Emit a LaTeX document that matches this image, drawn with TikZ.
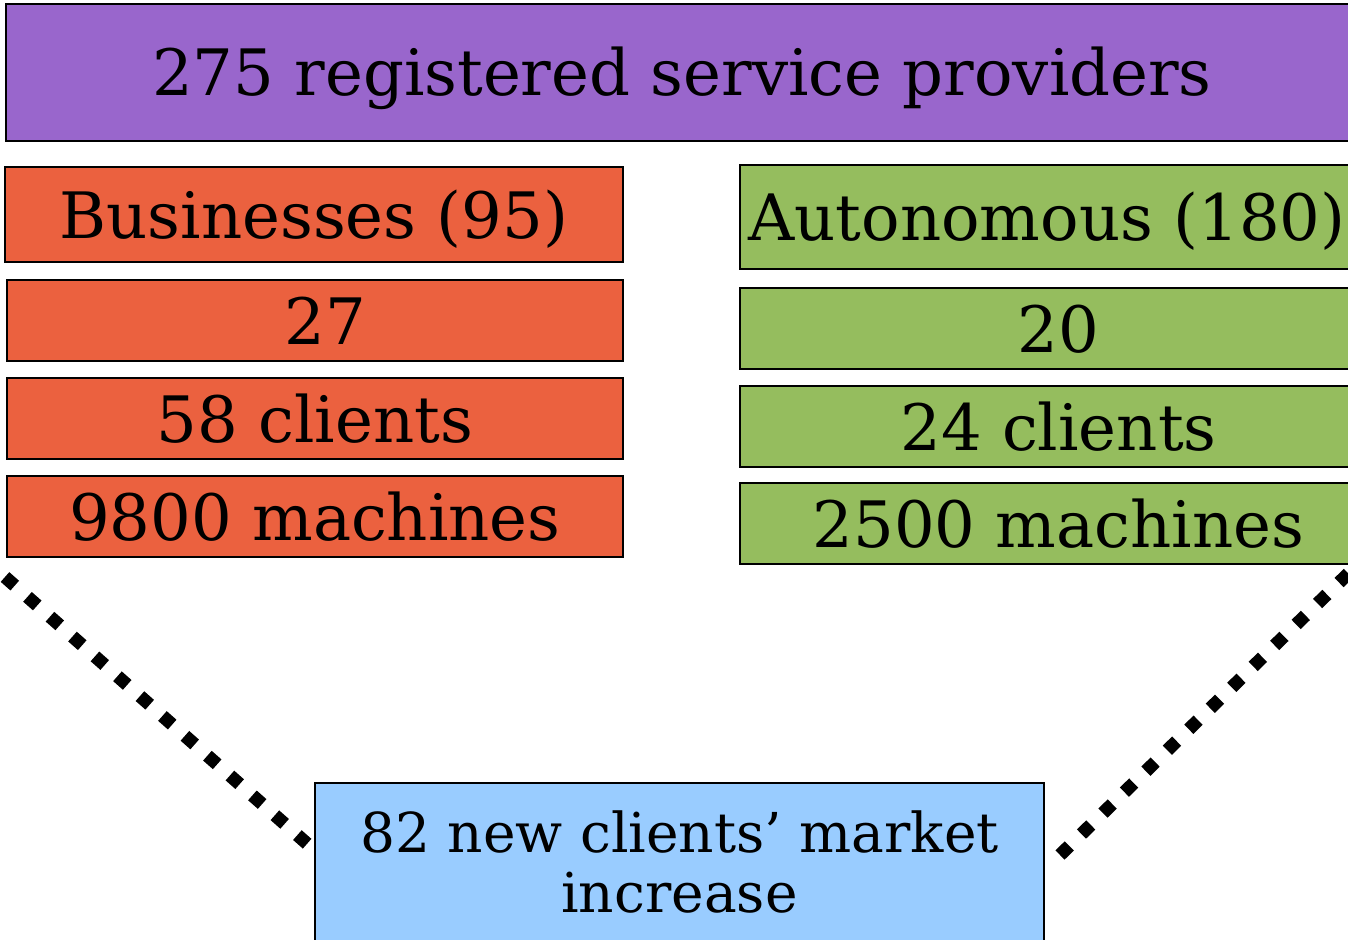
\documentclass[tikz,border=0pt]{standalone}
\usepackage{fontspec}
\setmainfont{DejaVu Serif}
\usetikzlibrary{positioning}
\definecolor{provpurple}{RGB}{153,102,204}
\definecolor{bizorange}{RGB}{235,97,63}
\definecolor{autogreen}{RGB}{149,189,94}
\definecolor{gainblue}{RGB}{153,204,255}
\tikzset{
cell/.style={
  draw=black,
  line width=1.5pt,
  inner sep=0pt,
  outer sep=0pt,
  text height=47pt,
  text depth=0pt,
  font=\fontsize{64}{74}\selectfont
  },
bizcell/.style={cell,fill=bizorange,minimum width=616pt,minimum height=81pt},
autocell/.style={cell,fill=autogreen,minimum width=637pt,minimum height=81pt},
dotline/.style={line width=13pt,dash pattern=on 13pt off 17pt}
}

\begin{document}
\begin{tikzpicture}[x=1pt,y=-1pt,node distance=17pt]
\useasboundingbox (0,0) rectangle (1348,939);

\node[cell,fill=provpurple,anchor=north west,minimum width=1352pt,minimum height=137pt]
  (prov) at (6,4) {275 registered service providers};

% left column
\node[cell,fill=bizorange,anchor=north west,minimum width=618pt,minimum height=95pt]
  (biz) at (5,167) {Businesses (95)};
\node[bizcell,below=18pt of biz.south west,anchor=north west,xshift=2pt] (biz27) {\ 27};
\node[bizcell,below=of biz27.south west,anchor=north west] (biz58) {58 clients};
\node[bizcell,below=of biz58.south west,anchor=north west] (biz9800) {9800 machines};

% right column
\node[cell,fill=autogreen,anchor=north west,minimum width=614pt,minimum height=104pt]
  (auto) at (740,165) {Autonomous (180)};
\node[autocell,below=19pt of auto.south west,anchor=north west] (auto20) {20};
\node[autocell,below=of auto20.south west,anchor=north west] (auto24) {24 clients};
\node[autocell,below=16pt of auto24.south west,anchor=north west] (auto2500) {2500 machines};

% market increase
\node[draw=black,line width=1.5pt,fill=gainblue,anchor=north west,inner sep=0pt,outer sep=0pt,
  minimum width=729pt,minimum height=180pt] (gain) at (315,783) {};
\node[font=\fontsize{55}{60}\selectfont,align=center,anchor=north,inner sep=0pt]
  (gaintext) at ([yshift=-28pt]gain.north) {82 new clients’ market\\increase};

\coordinate (lstart) at ([xshift=-2pt,yshift=-20pt]biz9800.south west);
\coordinate (lend) at ([xshift=-3pt,yshift=-65pt]gain.north west);
\coordinate (rstart) at ([xshift=16pt,yshift=-72pt]gain.north east);
\coordinate (rend) at ([xshift=-21pt,yshift=-2pt]auto2500.south east);

\draw[dotline] (lstart) -- (lend);
\draw[dotline] (rstart) -- (rend);
\end{tikzpicture}
\end{document}
